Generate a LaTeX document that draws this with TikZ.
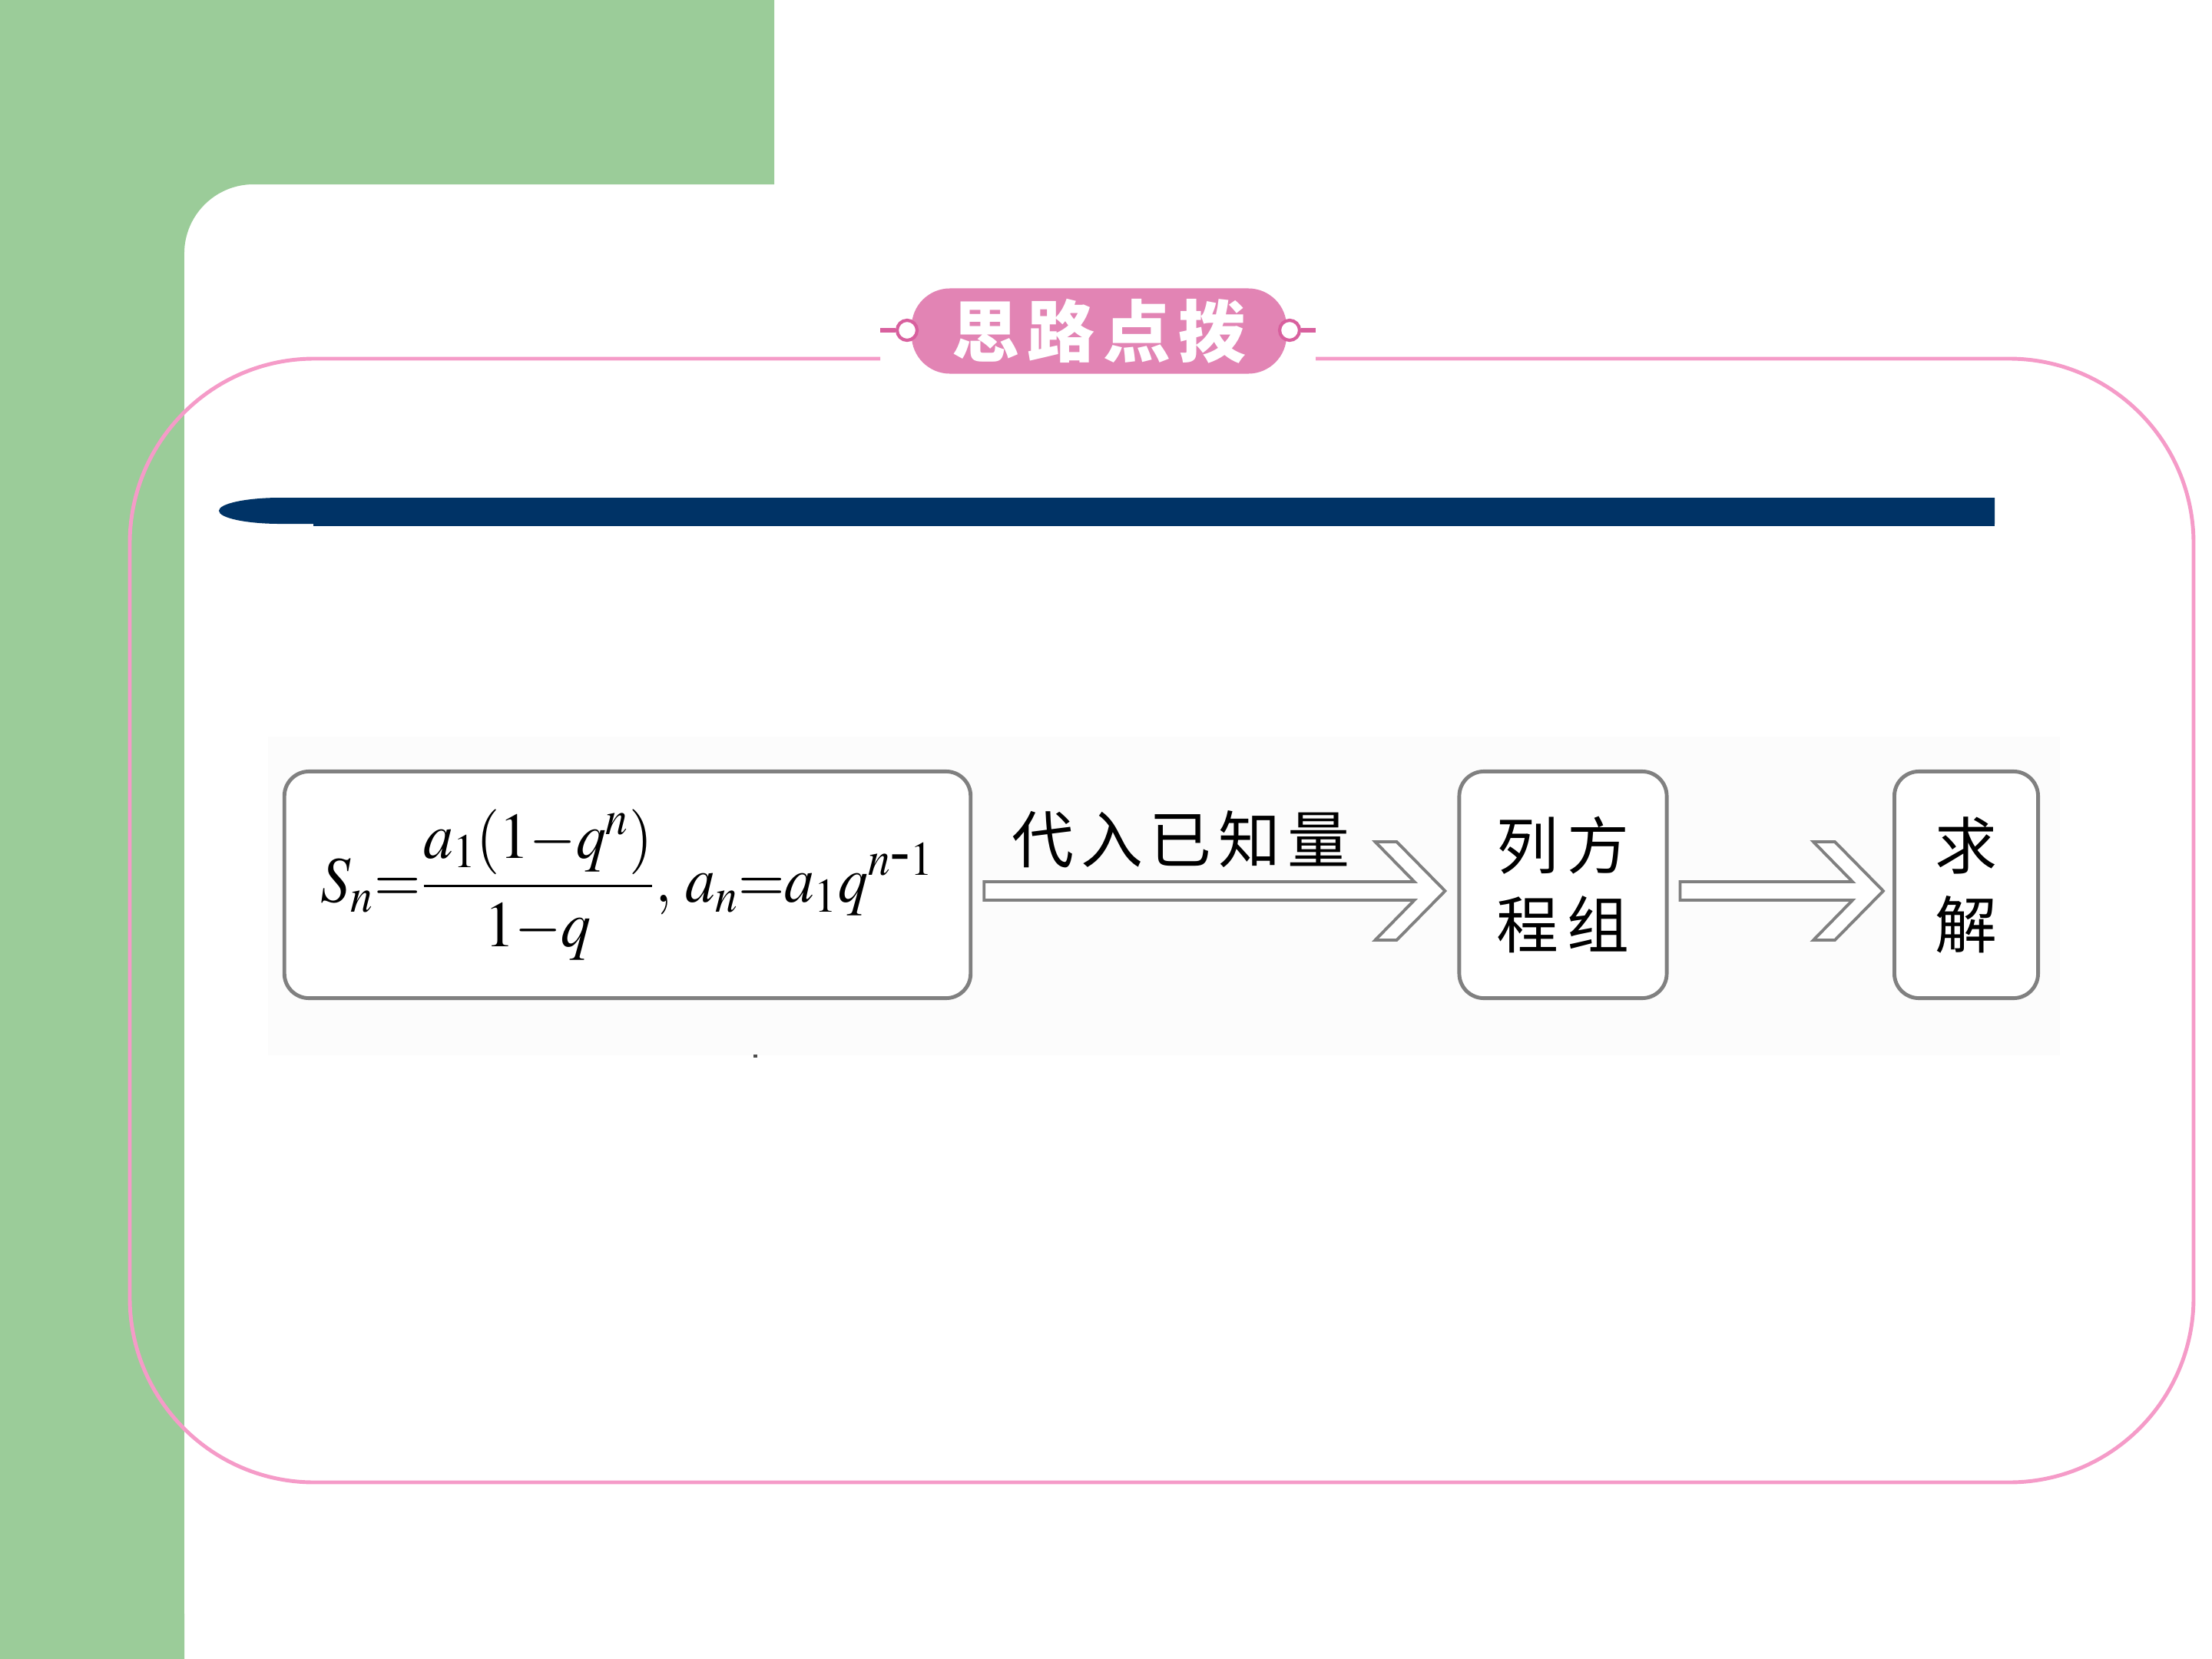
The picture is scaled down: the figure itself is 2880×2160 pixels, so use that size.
\documentclass[tikz,border=0pt]{standalone}
\usepackage{mathptmx}
\usepackage{fontspec}
\usepackage{graphicx}
\newfontfamily\cjk{Noto Sans CJK SC}
\usetikzlibrary{calc}
\definecolor{bggreen}{RGB}{155,204,153}
\definecolor{framepink}{RGB}{245,155,200}
\definecolor{pillpink}{RGB}{226,132,180}
\definecolor{ringpink}{RGB}{216,96,158}
\definecolor{barblue}{RGB}{0,51,102}
\definecolor{boxgray}{RGB}{128,128,128}
\definecolor{backdrop}{RGB}{252,252,252}
\begin{document}
\begin{tikzpicture}[x=0.01cm,y=-0.01cm,
  stepbox/.style={draw=boxgray, line width=1.4pt, rounded corners=0.32cm, minimum height=2.95cm, inner sep=0pt, fill=white, align=center, font=\cjk\fontsize{23}{29.3}\selectfont},
  hollow/.style={draw=boxgray, line width=1.1pt, fill=white, line join=miter},
  cjklabel/.style={font=\cjk\fontsize{23}{29.3}\selectfont, inner sep=0pt, align=center},
  ring/.style={circle, draw=ringpink, line width=1.2pt, fill=white, minimum size=0.26cm, inner sep=0pt},
]
\useasboundingbox (0,0) rectangle (2880,2160);
\fill[white] (0,0) rectangle (2880,2160);
% green background
\fill[bggreen] (0,0) -- (1008,0) -- (1008,240) -- (330,240) arc[start angle=90, end angle=180, radius=0.9cm] -- (240,2160) -- (0,2160) -- cycle;
% pink frame
\draw[framepink, line width=1.4pt, rounded corners=2.4cm] (1146,467) -- (169,467) -- (169,1930) -- (2856,1930) -- (2856,467) -- (1713,467);
% badge
\node[fill=pillpink, rounded corners=0.5cm, minimum width=4.88cm, minimum height=1.11cm, inner sep=0pt, text=white, font=\cjk\bfseries\fontsize{25}{25}\selectfont] (badge) at (1431,431) {思\hspace{3pt}路\hspace{3pt}点\hspace{3pt}拨};
\node[ring] (ringL) at (1181,430) {};
\node[ring] (ringR) at (1679,430) {};
\coordinate (dashL) at (1146,430);
\coordinate (dashR) at (1713,430);
\draw[ringpink, line width=1.6pt] (ringL.west) -- (dashL);
\draw[ringpink, line width=1.6pt] (ringR.east) -- (dashR);
% blue bar
\fill[barblue] (2597,648) -- (365,648) arc[start angle=90, end angle=270, x radius=0.8cm, y radius=0.17cm] -- (2597,682) -- cycle;
\fill[barblue] (408,680) rectangle (2597,685);
% image backdrop
\fill[backdrop] (349,959) rectangle (2682,1374);
\fill[black!70] (981,1373) rectangle (986,1377);
% boxes
\node[stepbox, minimum width=8.93cm] (f) at (817,1152) {\resizebox*{227pt}{56pt}{$\displaystyle S_n{=}\frac{a_1(1{-}q^n)}{1{-}q},\, a_n{=}a_1q^{n\mbox{-}1}$}};
\node[stepbox, minimum width=2.70cm] (b2) at (2035,1152) {列\hspace{3pt}方\\程\hspace{3pt}组};
\node[stepbox, minimum width=1.87cm] (b3) at (2560,1152) {求\\解};
% hollow arrows
\coordinate (a1s) at ($(f.east)+(15,8)$);
\coordinate (a1e) at ($(b2.west)+(-16,8)$);
\draw[hollow] ($(a1s)+(0,-12)$) -- ($(a1e)+(-40,-12)$) -- ($(a1e)+(-91,-64)$) -- ($(a1e)+(-63,-64)$) -- (a1e) -- ($(a1e)+(-63,64)$) -- ($(a1e)+(-91,64)$) -- ($(a1e)+(-40,12)$) -- ($(a1s)+(0,12)$) -- cycle;
\coordinate (a2s) at ($(b2.east)+(15,8)$);
\coordinate (a2e) at ($(b3.west)+(-12,8)$);
\draw[hollow] ($(a2s)+(0,-12)$) -- ($(a2e)+(-40,-12)$) -- ($(a2e)+(-91,-64)$) -- ($(a2e)+(-63,-64)$) -- (a2e) -- ($(a2e)+(-63,64)$) -- ($(a2e)+(-91,64)$) -- ($(a2e)+(-40,12)$) -- ($(a2s)+(0,12)$) -- cycle;
\node[cjklabel] (lab) at ($(a1s)!0.5!(a1e)+(-44,-67)$) {代\hspace{2.5pt}入\hspace{2.5pt}已\hspace{2.5pt}知\hspace{2.5pt}量};
\end{tikzpicture}
\end{document}
